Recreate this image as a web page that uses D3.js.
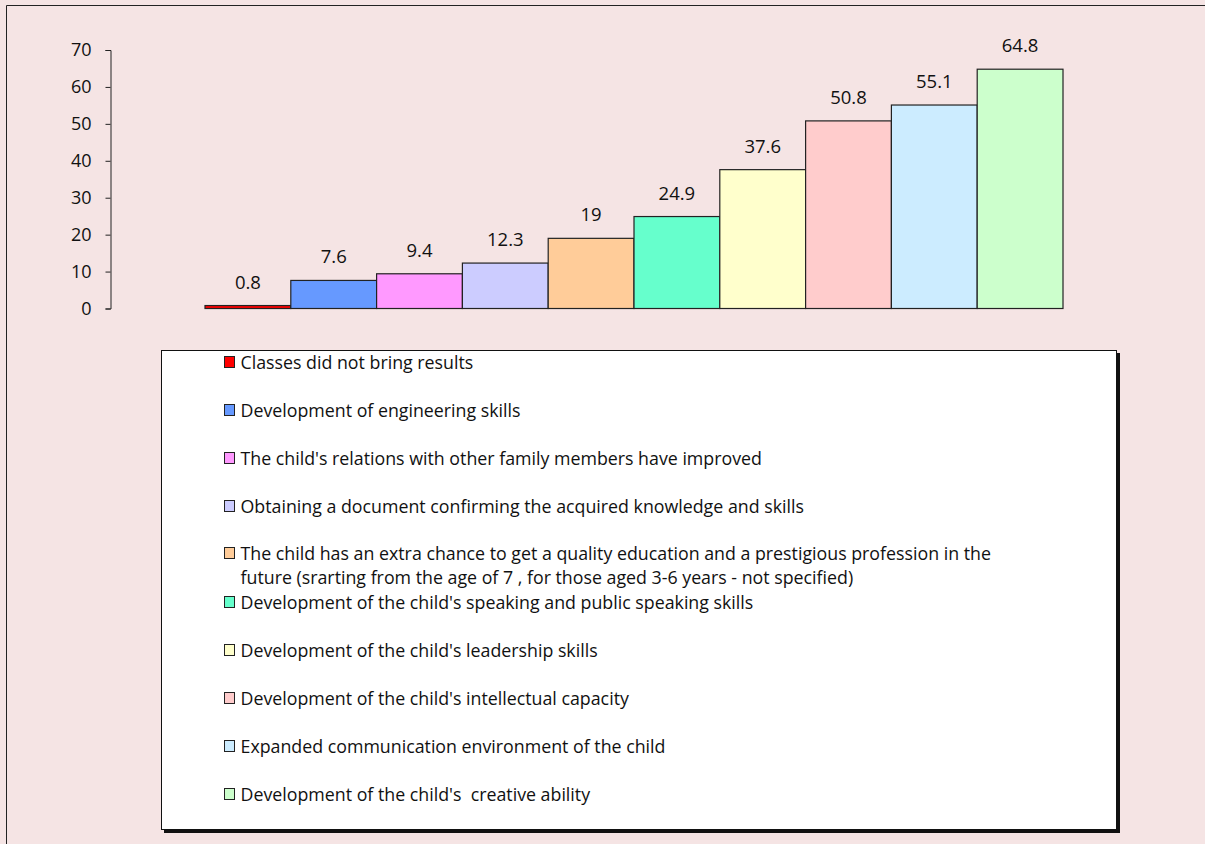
<!DOCTYPE html>
<html>
<head>
<meta charset="utf-8">
<script src="https://cdn.jsdelivr.net/npm/d3@7"></script>
<style>
  html, body { margin: 0; padding: 0; background: #F5E4E4; }
  svg { display: block; }
  text { font-family: "Open Sans", "Noto Sans", sans-serif; fill: #111; }
</style>
</head>
<body>
<svg id="chart" width="1205" height="844"></svg>
<script>
const categories = [
  "Classes did not bring results",
  "Development of engineering skills",
  "The child's relations with other family members have improved",
  "Obtaining a document confirming the acquired knowledge and skills",
  "The child has an extra chance to get a quality education and a prestigious profession in the future (srarting from the age of 7 , for those aged 3-6 years - not specified)",
  "Development of the child's speaking and public speaking skills",
  "Development of the child's leadership skills",
  "Development of the child's intellectual capacity",
  "Expanded communication environment of the child",
  "Development of the child's  creative ability"
];
const legendLines = [
  ["Classes did not bring results"],
  ["Development of engineering skills"],
  ["The child's relations with other family members have improved"],
  ["Obtaining a document confirming the acquired knowledge and skills"],
  ["The child has an extra chance to get a quality education and a prestigious profession in the",
   "future (srarting from the age of 7 , for those aged 3-6 years - not specified)"],
  ["Development of the child's speaking and public speaking skills"],
  ["Development of the child's leadership skills"],
  ["Development of the child's intellectual capacity"],
  ["Expanded communication environment of the child"],
  ["Development of the child's\u00A0 creative ability"]
];
const values = [0.8, 7.6, 9.4, 12.3, 19, 24.9, 37.6, 50.8, 55.1, 64.8];
const valueLabels = ["0.8", "7.6", "9.4", "12.3", "19", "24.9", "37.6", "50.8", "55.1", "64.8"];
const colors = ["#FF0000", "#6699FF", "#FF99FF", "#CCCCFF", "#FFCC99", "#66FFCC", "#FFFFCC", "#FFCCCC", "#CCECFF", "#CCFFCC"];
const yTicks = [0, 10, 20, 30, 40, 50, 60, 70];

const svg = d3.select("#chart");

// outer frame (top and left visible)
svg.append("line").attr("x1", 6.5).attr("y1", 5.5).attr("x2", 1205).attr("y2", 5.5).attr("stroke", "#222").attr("stroke-width", 1);
svg.append("line").attr("x1", 6.5).attr("y1", 5.5).attr("x2", 6.5).attr("y2", 844).attr("stroke", "#222").attr("stroke-width", 1);

const y = d3.scaleLinear().domain([0, 70]).range([308.5, 50]);
const x = d3.scaleBand().domain(categories).range([205, 1063]).padding(0);

// y axis
const axisX = 110.5;
const yAxis = d3.axisLeft(y).tickValues(yTicks).tickSize(5).tickPadding(14).tickFormat(d3.format("d"));
const ag = svg.append("g").attr("transform", `translate(${axisX},0)`).call(yAxis);
ag.select(".domain").attr("stroke", "#222");
ag.selectAll(".tick line").attr("stroke", "#222");
ag.selectAll(".tick text").style("font-family", "'Open Sans', sans-serif").style("font-size", "18px").attr("fill", "#111");

// bars
svg.append("g").selectAll("rect").data(categories).join("rect")
  .attr("x", d => x(d))
  .attr("y", (d, i) => y(values[i]))
  .attr("width", x.bandwidth())
  .attr("height", (d, i) => y(0) - y(values[i]))
  .attr("fill", (d, i) => colors[i])
  .attr("stroke", "#222")
  .attr("stroke-width", 1.2);

// value labels
svg.append("g").selectAll("text").data(categories).join("text")
  .attr("x", d => x(d) + x.bandwidth() / 2)
  .attr("y", (d, i) => y(values[i]) - 17)
  .attr("text-anchor", "middle")
  .style("font-size", "18.5px")
  .text((d, i) => valueLabels[i]);

// legend box with shadow
const lg = svg.append("g");
lg.append("rect").attr("x", 164).attr("y", 353).attr("width", 956).attr("height", 480).attr("fill", "#111");
lg.append("rect").attr("x", 161.5).attr("y", 350.5).attr("width", 955).attr("height", 479).attr("fill", "#fff").attr("stroke", "#111").attr("stroke-width", 1);

const slotY = d3.scaleLinear().domain([0, 9]).range([369, 801]);
legendLines.forEach((lines, i) => {
  const by = lines.length > 1 ? slotY(i) - 1 : slotY(i);
  lg.append("rect").attr("x", 224.5).attr("y", by - 12.5).attr("width", 10).attr("height", 11)
    .attr("fill", colors[i]).attr("stroke", "#222").attr("stroke-width", 1);
  lines.forEach((ln, j) => {
    lg.append("text").attr("x", 240.5).attr("y", by + j * 24.4)
      .style("font-size", "17.8px")
      .text(ln);
  });
});
</script>
</body>
</html>
